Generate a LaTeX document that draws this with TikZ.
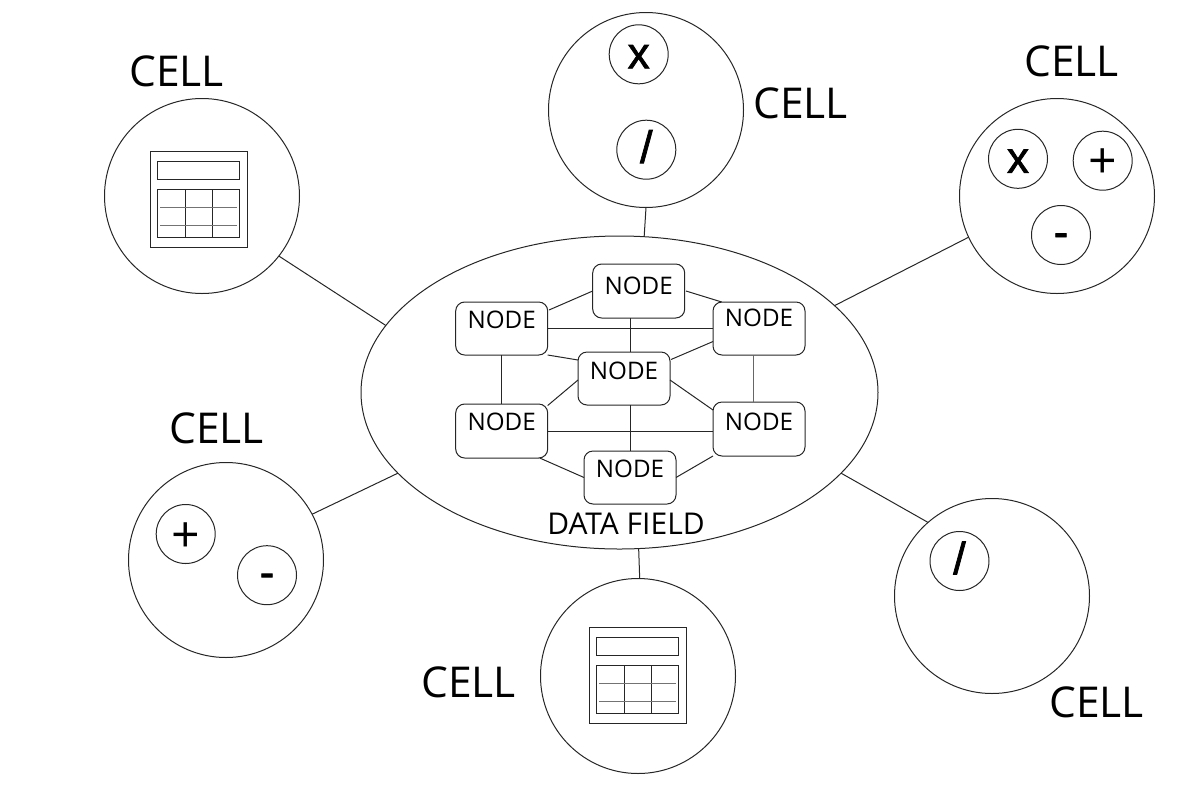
\documentclass[tikz,border=0pt]{standalone}
\usepackage{fontspec}
\setmainfont{Open Sans}
\newfontfamily\symfont[FakeBold=1.6]{Liberation Sans}
\usetikzlibrary{shapes.geometric}
\tikzset{
  every node/.style={inner sep=0pt,outer sep=0pt},
  ln/.style={line width=1pt,draw=black!85},
  big/.style={circle,ln,minimum size=195pt},
  small/.style={circle,ln,minimum size=59pt},
  symx/.style={font=\fontsize{44}{46}\selectfont\symfont,text height=28pt,text depth=0pt},
  symplus/.style={font=\fontsize{50}{52}\selectfont,text height=36pt,text depth=0pt},
  symminus/.style={font=\fontsize{44}{46}\selectfont\symfont,text height=24pt,text depth=0pt},
  symslash/.style={font=\fontsize{45}{48}\selectfont\symfont,text height=26pt,text depth=0pt},
  cell/.style={anchor=base,font=\fontsize{42.5}{50}\selectfont},
  nodebox/.style={draw,ln,rounded corners=9pt,minimum width=92pt,font=\fontsize{24.2}{28}\selectfont},
  calcicon/.pic={
    \draw[ln] (150,151) rectangle (247.3,247.7);
    \draw[ln] (157.3,161.3) rectangle (239.7,179.3);
    \draw[ln] (157.3,189.3) rectangle (239.7,237.3);
    \draw[ln] (185.3,189.3) -- (185.3,237.3) (212.3,189.3) -- (212.3,237.3);
    \draw[ln,draw=black!55] (160.3,207.7) -- (237.3,207.7) (160.3,225.7) -- (237.3,225.7);
  }
}
\begin{document}
\begin{tikzpicture}[x=1pt,y=-1pt]
\useasboundingbox (0,0) rectangle (1200,788);
% big circles
\node[big] (c1) at (202,196) {};
\node[big] (c2) at (646,110) {};
\node[big] (c3) at (1057,196) {};
\node[big] (c4) at (226,560) {};
\node[big] (c5) at (638,676) {};
\node[big] (c6) at (992,596) {};
\node[ellipse,ln,draw,minimum width=517pt,minimum height=313pt] (field) at (619.5,392.5) {};
% cell labels
\node[cell] (l1) at (176.5,86) {CELL};
\node[cell] (l2) at (800.5,118) {CELL};
\node[cell] (l3) at (1071.5,76) {CELL};
\node[cell] (l4) at (216.5,443) {CELL};
\node[cell] (l5) at (468.5,697) {CELL};
\node[cell] (l6) at (1096.5,717) {CELL};
\node[anchor=base,font=\fontsize{30}{34}\selectfont] (fl) at (626,534) {DATA FIELD};
% spokes
\draw[ln] (c1.-38.8) -- (field.164);
\draw[ln] (c2.-90.6) -- (field.81.3);
\draw[ln] (c3.205.3) -- (field.22.2);
\draw[ln] (c4.28.1) -- (field.200);
\draw[ln] (c5.89.4) -- (field.-83.4);
\draw[ln] (c6.131.3) -- (field.-20.7);
% small circles
\node[small,symx] (s1) at (638.7,54.3) {x};
\node[small,symslash] (s2) at (646.3,149.7) {/\hspace{4pt}};
\node[small,symx] (s3) at (1018,158.8) {x};
\node[small,symplus] (s4) at (1102.7,160.7) {+};
\node[small,symminus] (s5) at (1061,235) {-\hspace{5pt}};
\node[small,symplus] (s6) at (185.7,534) {+};
\node[small,symminus] (s7) at (267,575.2) {-\hspace{5pt}};
\node[small,symslash] (s8) at (959.5,561) {/\hspace{4pt}};
% calculators
\pic at (0,0) {calcicon};
\pic at (439,476) {calcicon};
% inner nodes
\node[nodebox,text height=30pt,text depth=24pt] (top) at (638.7,264) [anchor=north] {NODE};
\node[nodebox,text height=26pt,text depth=27pt] (lt) at (501.7,302) [anchor=north] {NODE};
\node[nodebox,text height=24pt,text depth=29pt] (rt) at (759,302) [anchor=north] {NODE};
\node[nodebox,text height=27pt,text depth=26pt] (mid) at (624,352) [anchor=north] {NODE};
\node[nodebox,text height=26pt,text depth=28pt] (lb) at (501.7,404) [anchor=north] {NODE};
\node[nodebox,text height=28pt,text depth=26pt] (rb) at (759,402) [anchor=north] {NODE};
\node[nodebox,text height=26pt,text depth=27pt] (bot) at (630,451) [anchor=north] {NODE};
% links
\draw[ln] (top.west) -- ([shift={(1.3,-18.5)}]lt.east);
\draw[ln] ([shift={(1.3,0)}]top.east) -- ([shift={(8.7,0)}]rt.north west);
\draw[ln] (lt.east) -- (rt.west |- lt.east);
\draw[ln] (630.3,0 |- top.south) -- (630.3,0 |- mid.north);
\draw[ln] (lt.south east) -- ([shift={(0,-18.5)}]mid.west);
\draw[ln] ([shift={(0,13)}]rt.west) -- ([shift={(1,-19)}]mid.east);
\draw[ln] (lt.south) -- (lb.north);
\draw[ln,draw=black!60] (753.7,0 |- rt.south) -- (753.7,0 |- rb.north);
\draw[ln] ([shift={(0,1.5)}]mid.west) -- ([shift={(0,1.5)}]lb.north east);
\draw[ln] ([shift={(0,1.5)}]mid.east) -- ([shift={(0,-19)}]rb.west);
\draw[ln] (lb.east) -- (rb.west |- lb.east);
\draw[ln] (630.3,0 |- mid.south) -- (630.3,0 |- bot.north);
\draw[ln] ([shift={(-8,0)}]lb.south east) -- (bot.west);
\draw[ln] (rb.south west) -- (bot.east);
\end{tikzpicture}
\end{document}
